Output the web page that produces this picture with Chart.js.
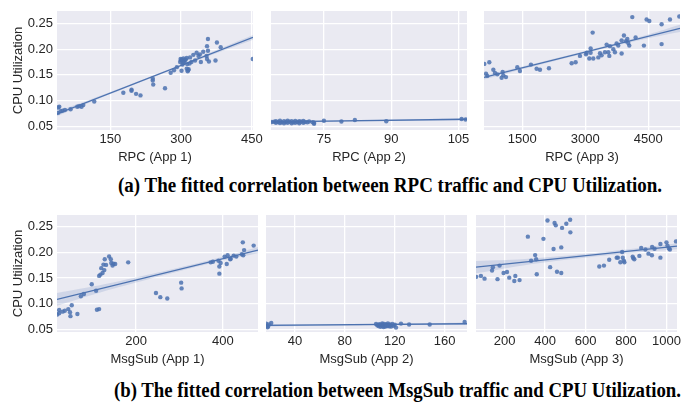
<!DOCTYPE html>
<html><head><meta charset="utf-8">
<script src="https://cdn.jsdelivr.net/npm/chart.js@4.4.0/dist/chart.umd.min.js"></script>
<style>
html,body{margin:0;padding:0;background:#fff;}
#wrap{position:relative;width:691px;height:406px;overflow:hidden;background:#fff;}
#wrap canvas{position:absolute;}
.cap{position:absolute;left:0;top:0;white-space:nowrap;font-family:"Liberation Serif","Times New Roman",serif;font-weight:bold;font-size:20px;line-height:1;color:#000;transform-origin:0 0;}
</style></head><body><div id="wrap">
<div class="cap" id="capA">(a) The fitted correlation between RPC traffic and CPU Utilization.</div>
<div class="cap" id="capB">(b) The fitted correlation between MsgSub traffic and CPU Utilization.</div>
</div>
<script>
// ---- data ----
const yTicks = [0.05, 0.10, 0.15, 0.20, 0.25];

const rpc1Ticks = [150, 300, 450];
const rpc1X = [39.6,41.8,39,44.6,48.8,53.8,65.8,80,84,89,92.7,116,177.6,195,195,204.6,214,240,240,241,266,278,285,291,298,299,301,303,305,308,312,312,315,313,319,322,326,329.7,333,337,340,342,347,354,355,357,357,355,359,373,376,384,452,300,302,306,310,318,305,316,314];
const rpc1Y = [0.0865,0.0877,0.0758,0.079,0.080,0.0814,0.083,0.0877,0.089,0.0877,0.091,0.098,0.115,0.121,0.119,0.113,0.110,0.143,0.139,0.131,0.124,0.154,0.159,0.165,0.175,0.181,0.158,0.170,0.182,0.178,0.183,0.162,0.159,0.171,0.184,0.175,0.189,0.178,0.193,0.187,0.190,0.175,0.195,0.187,0.206,0.220,0.197,0.181,0.176,0.178,0.213,0.204,0.181,0.178,0.180,0.176,0.180,0.172,0.173,0.161,0.157];
const rpc1FitX = [37, 452.5];
const rpc1FitY = [0.074, 0.223];
const rpc1BandX = [37, 150, 300, 452.5];
const rpc1BandLo = [0.0695, 0.1125, 0.1665, 0.2185];
const rpc1BandHi = [0.0785, 0.1167, 0.1703, 0.2275];

const rpc2Ticks = [75, 90, 105];
const rpc2X = [63.4,63.9,64.3,64.3,64.8,65.2,65.2,65.6,66.1,66.1,66.5,66.9,66.9,67.3,67.8,67.8,68.2,68.6,68.6,69.1,69.5,69.5,69.9,70.4,70.4,70.8,71.3,71.7,72.5,72.8,72.8,75.0,78.9,81.9,88.9,105.7,106.6];
const rpc2Y = [0.058,0.0585,0.0565,0.0595,0.058,0.056,0.0605,0.0575,0.0555,0.0595,0.058,0.0565,0.0605,0.0585,0.0555,0.0595,0.0575,0.0565,0.060,0.058,0.0555,0.0595,0.0585,0.0565,0.0600,0.058,0.0575,0.059,0.0575,0.0545,0.0565,0.0605,0.0590,0.0620,0.0595,0.0640,0.0630];
const rpc2FitX = [63.2, 106.9];
const rpc2FitY = [0.0583, 0.0635];
const rpc2BandX = [63.2, 70, 90, 106.9];
const rpc2BandLo = [0.0573, 0.0583, 0.0605, 0.0610];
const rpc2BandHi = [0.0593, 0.0599, 0.0625, 0.0660];

const rpc3Ticks = [1500, 3000, 4500];
const rpc3X = [595,714,635,667,810,849,905,1008,1032,1048,1111,1381,1444,1706,1841,1921,2135,2675,2770,2873,3016,3032,3095,3127,3127,3175,3190,3310,3350,3389,3468,3508,3548,3572,3587,3667,3706,3746,3785,3865,3865,3920,3968,4000,4023,4047,4119,4198,4396,4460,4524,4817,4817,5016,5238];
const rpc3Y = [0.1714,0.1745,0.1525,0.148,0.160,0.1538,0.151,0.1443,0.1557,0.149,0.1456,0.165,0.1575,0.170,0.162,0.160,0.163,0.1726,0.1745,0.187,0.190,0.193,0.182,0.2016,0.193,0.2324,0.182,0.184,0.192,0.188,0.194,0.209,0.194,0.187,0.206,0.200,0.194,0.211,0.207,0.1915,0.2173,0.2267,0.2154,0.2198,0.212,0.207,0.2626,0.223,0.207,0.2578,0.255,0.2487,0.210,0.2578,0.2638];
const rpc3FitX = [588, 5255];
const rpc3FitY = [0.145, 0.2406];
const rpc3BandX = [588, 1500, 3000, 4500, 5255];
const rpc3BandLo = [0.1410, 0.1610, 0.1922, 0.2215, 0.2336];
const rpc3BandHi = [0.1490, 0.1664, 0.1966, 0.2289, 0.2476];

const msg1Ticks = [200, 400];
const msg1X = [18.5,23,23,31,36,44,48,49,52,65,73,80,98,108,110,115,115,118,120,123,125,127,128,131,138,142,143,146,148,152,182,246,256,272,304,305,372,377,390,392,392,395,404,409,411,417,418,425,431,444,446,447,449,471];
const msg1Y = [0.079,0.0814,0.0877,0.0846,0.0865,0.0896,0.0833,0.0758,0.0971,0.080,0.1148,0.119,0.138,0.1255,0.0884,0.0896,0.1544,0.1569,0.1695,0.160,0.1764,0.1657,0.187,0.1758,0.1921,0.187,0.1795,0.1745,0.178,0.1777,0.1808,0.121,0.1129,0.1104,0.1412,0.130,0.1808,0.182,0.184,0.1726,0.1588,0.1796,0.192,0.1777,0.1946,0.187,0.188,0.194,0.192,0.1965,0.2198,0.1946,0.2047,0.2135];
const msg1FitX = [18, 481];
const msg1FitY = [0.1085, 0.2047];
const msg1BandX = [18, 100, 200, 300, 400, 481];
const msg1BandLo = [0.0960, 0.1175, 0.1413, 0.1635, 0.1842, 0.1985];
const msg1BandHi = [0.1210, 0.1335, 0.1513, 0.1707, 0.1916, 0.2109];

const msg2Ticks = [40, 80, 120, 160];
const msg2X = [17,17.5,18,18.5,19,21,105,106,107,107.5,108,108.5,109,109.5,110,110.5,111,111,111.5,112,112.5,113,113.5,114,114.5,115,115.5,116,116.5,117,118,119,120,121,125,131.5,148,176];
const msg2Y = [0.061,0.057,0.054,0.0555,0.0595,0.0625,0.0605,0.058,0.0565,0.060,0.0585,0.055,0.0575,0.0595,0.0615,0.0565,0.058,0.0545,0.0605,0.0575,0.0555,0.0595,0.0585,0.0565,0.0615,0.0575,0.056,0.0595,0.058,0.0555,0.0605,0.057,0.059,0.0535,0.0613,0.0594,0.0594,0.0644];
const msg2FitX = [16.8, 177.9];
const msg2FitY = [0.058, 0.061];
const msg2BandX = [16.8, 60, 110, 177.9];
const msg2BandLo = [0.0557, 0.0572, 0.0587, 0.0585];
const msg2BandHi = [0.0603, 0.0604, 0.0607, 0.0635];

const msg3Ticks = [200, 400, 600, 800, 1000];
const msg3X = [60,83,101,138,142,165,175,195,212,223,248,253,274,315,331,351,356,359,392,412,425,442,447,453,459,480,480,484,505,524,525,668,691,717,754,760,772,781,784,789,792,833,836,841,866,875,896,911,928,929,941,970,970,1000,1005,1012,1017,1047];
const msg3Y = [0.1525,0.1544,0.149,0.165,0.1714,0.148,0.1745,0.160,0.162,0.151,0.1443,0.1544,0.1462,0.231,0.184,0.195,0.187,0.1575,0.2267,0.2626,0.1714,0.207,0.2575,0.253,0.1626,0.210,0.160,0.248,0.256,0.2638,0.2393,0.1727,0.1745,0.1859,0.190,0.190,0.181,0.201,0.190,0.184,0.181,0.192,0.189,0.187,0.1934,0.209,0.206,0.1978,0.1946,0.2108,0.2073,0.2167,0.190,0.2198,0.2135,0.2079,0.206,0.2217];
const msg3FitX = [58.7, 1052];
const msg3FitY = [0.1714, 0.2123];
const msg3BandX = [58.7, 300, 550, 800, 1052];
const msg3BandLo = [0.1594, 0.1753, 0.1876, 0.1979, 0.2063];
const msg3BandHi = [0.1834, 0.1873, 0.1956, 0.2059, 0.2183];

// ---- drawing ----
const BLUE = '#4C72B0';
const TXT = '#262626';
const FONT = '"Liberation Sans", Arial, sans-serif';
const zip = (xs, ys) => xs.map((x, i) => ({x: x, y: ys[i]}));

const bgPlugin = {
  id: 'bg',
  beforeDraw(chart) {
    const a = chart.chartArea, ctx = chart.ctx;
    ctx.save(); ctx.fillStyle = '#EAEAF2';
    ctx.fillRect(a.left, a.top, a.right - a.left, a.bottom - a.top);
    ctx.restore();
  }
};

function panel(cfg) {
  const M = 15;
  const cl = cfg.yLabel ? 0 : cfg.l - M;
  const ct = cfg.t;
  const cw = cfg.r + M - cl;
  const XH = 45;
  const ch = (cfg.b - cfg.t) + XH;
  const c = document.createElement('canvas');
  c.width = cw; c.height = ch;
  c.style.left = cl + 'px'; c.style.top = ct + 'px';
  c.style.width = cw + 'px'; c.style.height = ch + 'px';
  document.getElementById('wrap').appendChild(c);
  const yW = cfg.l - cl - (cfg.yLabel ? 0 : M);
  new Chart(c.getContext('2d'), {
    type: 'scatter',
    data: { datasets: [
      { type: 'line', data: zip(cfg.bandX, cfg.bandHi), borderWidth: 0, pointRadius: 0, fill: '+1', backgroundColor: 'rgba(76,114,176,0.17)', tension: 0.4, order: 4 },
      { type: 'line', data: zip(cfg.bandX, cfg.bandLo), borderWidth: 0, pointRadius: 0, fill: false, tension: 0.4, order: 3 },
      { type: 'line', data: zip(cfg.fitX, cfg.fitY), borderColor: BLUE, borderWidth: 1.3, pointRadius: 0, fill: false, order: 2 },
      { type: 'scatter', data: zip(cfg.xs, cfg.ys), pointRadius: 2.2, backgroundColor: 'rgba(76,114,176,0.85)', borderWidth: 0, order: 1 }
    ]},
    options: {
      responsive: false, animation: false, events: [],
      layout: { padding: { left: cfg.yLabel ? 0 : M, right: M, top: 0, bottom: 0 } },
      plugins: { legend: { display: false }, tooltip: { enabled: false } },
      scales: {
        x: {
          type: 'linear', position: 'bottom', min: cfg.xmin, max: cfg.xmax,
          afterBuildTicks: s => { s.ticks = cfg.xTicks.map(v => ({ value: v })); },
          ticks: { callback: v => String(v), font: { family: FONT, size: 13 }, color: TXT, padding: 2, maxRotation: 0, autoSkip: false },
          grid: { color: '#ffffff', lineWidth: 1.3, drawTicks: false },
          border: { display: false },
          title: { display: true, text: cfg.xTitle, font: { family: FONT, size: 13 }, color: TXT, padding: { top: 0, bottom: 10 } },
          afterFit: s => { s.height = XH; s.paddingLeft = 0; s.paddingRight = 0; s.paddingTop = 0; s.paddingBottom = 0; }
        },
        y: {
          type: 'linear', position: 'left', min: cfg.ymin, max: cfg.ymax,
          afterBuildTicks: s => { s.ticks = yTicks.map(v => ({ value: v })); },
          ticks: { display: !!cfg.yLabel, callback: v => v.toFixed(2), font: { family: FONT, size: 13 }, color: TXT, padding: 4 },
          grid: { color: '#ffffff', lineWidth: 1.3, drawTicks: false },
          border: { display: false },
          title: { display: !!cfg.yLabel, text: 'CPU Utilization', font: { family: FONT, size: 13 }, color: TXT, padding: { top: 11, bottom: 0 } },
          afterFit: s => { s.width = yW; s.paddingLeft = 0; s.paddingRight = 0; s.paddingTop = 0; s.paddingBottom = 0; }
        }
      }
    },
    plugins: [bgPlugin]
  });
}

const R1 = { t: 7, b: 130, ymin: 0.0425, ymax: 0.2745 };
const R2 = { t: 211, b: 332, ymin: 0.0449, ymax: 0.2732 };

panel(Object.assign({}, R1, { l: 57, r: 253, yLabel: true, xmin: 37, xmax: 452.5, xTicks: rpc1Ticks, xs: rpc1X, ys: rpc1Y, fitX: rpc1FitX, fitY: rpc1FitY, bandX: rpc1BandX, bandLo: rpc1BandLo, bandHi: rpc1BandHi, xTitle: 'RPC (App 1)' }));
panel(Object.assign({}, R1, { l: 271, r: 467, yLabel: false, xmin: 63.2, xmax: 106.9, xTicks: rpc2Ticks, xs: rpc2X, ys: rpc2Y, fitX: rpc2FitX, fitY: rpc2FitY, bandX: rpc2BandX, bandLo: rpc2BandLo, bandHi: rpc2BandHi, xTitle: 'RPC (App 2)' }));
panel(Object.assign({}, R1, { l: 484, r: 680, yLabel: false, xmin: 588, xmax: 5255, xTicks: rpc3Ticks, xs: rpc3X, ys: rpc3Y, fitX: rpc3FitX, fitY: rpc3FitY, bandX: rpc3BandX, bandLo: rpc3BandLo, bandHi: rpc3BandHi, xTitle: 'RPC (App 3)' }));
panel(Object.assign({}, R2, { l: 57, r: 258, yLabel: true, xmin: 18, xmax: 481, xTicks: msg1Ticks, xs: msg1X, ys: msg1Y, fitX: msg1FitX, fitY: msg1FitY, bandX: msg1BandX, bandLo: msg1BandLo, bandHi: msg1BandHi, xTitle: 'MsgSub (App 1)' }));
panel(Object.assign({}, R2, { l: 266, r: 467, yLabel: false, xmin: 16.8, xmax: 177.9, xTicks: msg2Ticks, xs: msg2X, ys: msg2Y, fitX: msg2FitX, fitY: msg2FitY, bandX: msg2BandX, bandLo: msg2BandLo, bandHi: msg2BandHi, xTitle: 'MsgSub (App 2)' }));
panel(Object.assign({}, R2, { l: 476, r: 677, yLabel: false, xmin: 58.7, xmax: 1052, xTicks: msg3Ticks, xs: msg3X, ys: msg3Y, fitX: msg3FitX, fitY: msg3FitY, bandX: msg3BandX, bandLo: msg3BandLo, bandHi: msg3BandHi, xTitle: 'MsgSub (App 3)' }));

function fitCap(id, left, right, cy) {
  const el = document.getElementById(id);
  const w = el.getBoundingClientRect().width;
  el.style.transform = 'scaleX(' + ((right - left) / w) + ')';
  el.style.left = left + 'px';
  el.style.top = (cy - el.offsetHeight / 2) + 'px';
}
fitCap('capA', 118, 662, 185);
fitCap('capB', 114, 681, 390);
</script>
</body></html>
